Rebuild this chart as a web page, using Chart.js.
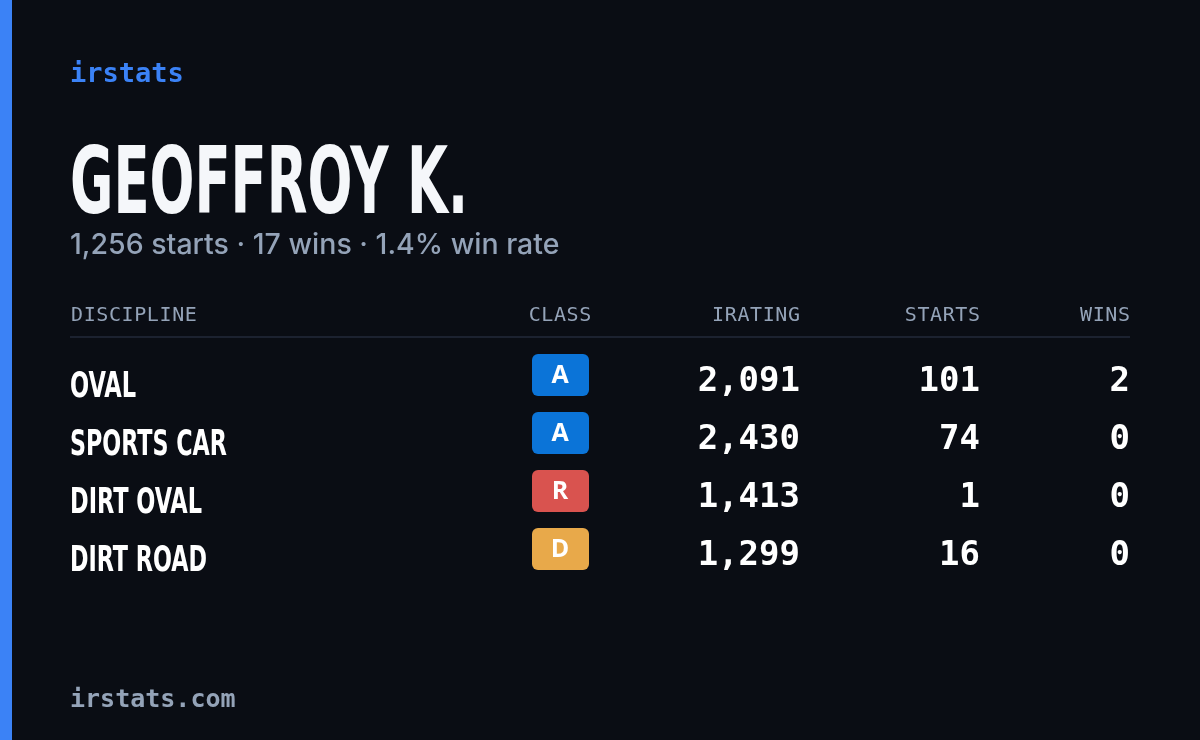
<!DOCTYPE html>
<html><head><meta charset="utf-8">
<script src="https://cdn.jsdelivr.net/npm/chart.js@4"></script>
<style>html,body{margin:0;padding:0;background:#0a0d14;}canvas{display:block}</style>
</head><body>
<div style="width:1200px;height:740px;position:relative"><canvas id="c"></canvas></div>
<script>
const disciplines = ["OVAL","SPORTS CAR","DIRT OVAL","DIRT ROAD"];
const classes = ["A","A","R","D"];
const iratings = [2091,2430,1413,1299];
const starts = [101,74,1,16];
const wins = [2,0,0,0];
const headers = ["DISCIPLINE","CLASS","IRATING","STARTS","WINS"];
const brand = "irstats";
const playerName = "GEOFFROY K.";
const subtitle = "1,256 starts · 17 wins · 1.4% win rate";
const footer = "irstats.com";
const classColors = {A:"#0b74d8",R:"#d9534f",D:"#e8a94a",B:"#2fae5b",C:"#e6c229"};

const fmt = v => v.toLocaleString("en-US");
const COND = '"DejaVu Sans Condensed","DejaVu Sans",sans-serif';
const MONO = '"DejaVu Sans Mono","Liberation Mono",monospace';

function spaced(ctx,text,x,y,sp,align){
  let w=0; for(const ch of text) w+=ctx.measureText(ch).width+sp; w-=sp;
  let cx = align==="right"? x-w : align==="center"? x-w/2 : x;
  ctx.textAlign="left";
  for(const ch of text){ctx.fillText(ch,cx,y);cx+=ctx.measureText(ch).width+sp;}
}
function squeezed(ctx,text,x,y,targetW){
  const w=ctx.measureText(text).width;
  ctx.save();ctx.translate(x,y);ctx.scale(targetW/w,1);ctx.textAlign="left";ctx.fillText(text,0,0);ctx.restore();
}

const card = {
  id:"card",
  beforeDraw(chart){
    const ctx=chart.ctx;
    ctx.save();
    ctx.fillStyle="#0a0d14";ctx.fillRect(0,0,1200,740);
    ctx.fillStyle="#3b82f6";ctx.fillRect(0,0,12,740);
    ctx.textBaseline="alphabetic";
    ctx.fillStyle="#3b82f6";ctx.font="bold 27px "+MONO;ctx.textAlign="left";
    ctx.fillText(brand,70,82);
    ctx.fillStyle="#f5f7fa";ctx.font="bold 92px "+COND;
    squeezed(ctx,playerName,70,213,398);
    ctx.fillStyle="#94a3b8";ctx.font="500 28.5px Inter, sans-serif";
    ctx.fillText(subtitle,70,254);
    ctx.font="500 20px "+MONO;ctx.fillStyle="#94a3b8";
    spaced(ctx,headers[0],71,321,0.6,"left");
    spaced(ctx,headers[1],560,321,0.6,"center");
    spaced(ctx,headers[2],800,321,0.6,"right");
    spaced(ctx,headers[3],980,321,0.6,"right");
    spaced(ctx,headers[4],1130,321,0.6,"right");
    ctx.fillStyle="#1c2230";ctx.fillRect(70,336,1060,2);
    ctx.fillStyle="#94a3b8";ctx.font="bold 25px "+MONO;ctx.textAlign="left";
    ctx.fillText(footer,70,707);
    const y=chart.scales.y;
    const fullW={"OVAL":66,"SPORTS CAR":157,"DIRT OVAL":132,"DIRT ROAD":137};
    disciplines.forEach((d,i)=>{
      const cy=y.getPixelForValue(i);
      ctx.fillStyle="#ffffff";ctx.font="bold 35px "+COND;
      squeezed(ctx,d,70,cy+19,fullW[d]||ctx.measureText(d).width*0.72);
      ctx.fillStyle=classColors[classes[i]];
      ctx.beginPath();ctx.roundRect(532,cy-24,57,42,6);ctx.fill();
      ctx.fillStyle="#ffffff";ctx.font="bold 25px 'Open Sans',sans-serif";ctx.textAlign="center";
      ctx.fillText(classes[i],560,cy+5);
      ctx.font="bold 34px "+MONO;ctx.textAlign="right";
      ctx.fillText(fmt(iratings[i]),800,cy+13);
      ctx.fillText(fmt(starts[i]),980,cy+13);
      ctx.fillText(fmt(wins[i]),1130,cy+13);
    });
    ctx.restore();
  }
};

new Chart(document.getElementById("c"),{
  type:"bar",
  data:{labels:disciplines,datasets:[{data:wins,backgroundColor:"rgba(0,0,0,0)"}]},
  options:{
    indexAxis:"y",responsive:true,maintainAspectRatio:false,animation:false,
    layout:{padding:{top:349,bottom:159,left:70,right:70}},
    plugins:{legend:{display:false},tooltip:{enabled:false}},
    scales:{y:{display:false,offset:true},x:{display:false}}
  },
  plugins:[card]
});
</script>
</body></html>
